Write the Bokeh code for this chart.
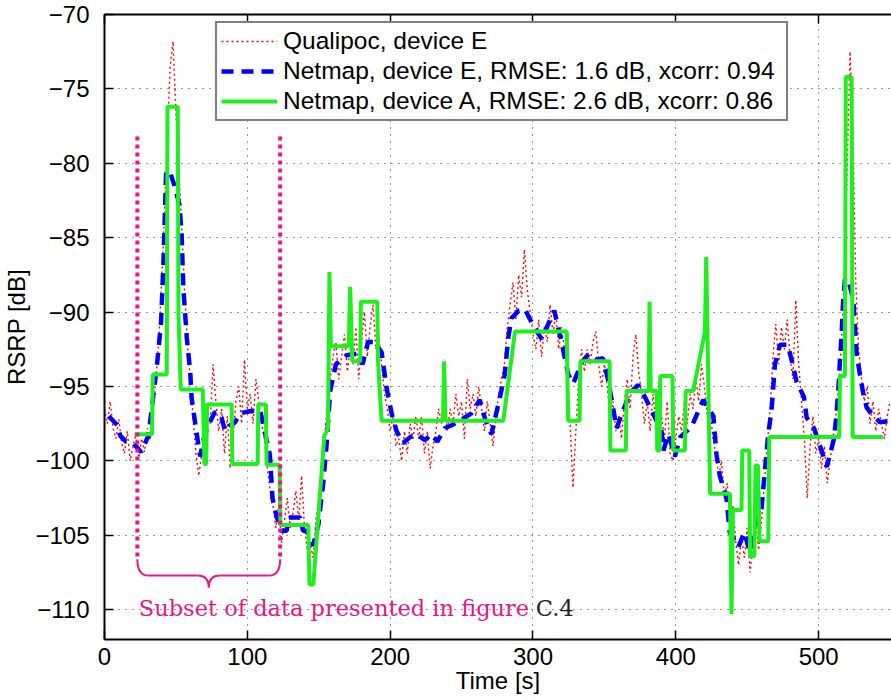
from bokeh.plotting import figure
from bokeh.models import Legend, LegendItem, LinearAxis, FixedTicker, Range1d
from bokeh.core.properties import value
from bokeh.embed import file_html
from bokeh.resources import INLINE

# ---------------- data ----------------
x_ticks = [0, 100, 200, 300, 400, 500]
y_ticks = [-110, -105, -100, -95, -90, -85, -80, -75, -70]

# Qualipoc, device E (sampled every 2 s from 0 to 550 s)
red_start, red_step = 0, 2
red_rsrp = [
    -96.5, -97.5, -96.0, -97.8, -98.5, -97.2, -98.8, -99.5, -98.0, -100.0,
    -99.0, -98.2, -99.8, -98.5, -99.4, -97.8, -98.6, -96.5, -94.5, -92.0,
    -88.0, -83.5, -78.0, -73.5, -71.8, -76.5, -80.5, -84.0, -88.5, -92.0,
    -94.5, -97.0, -99.5, -101.0, -99.5, -98.0, -96.5, -97.5, -93.5, -96.0,
    -98.0, -96.5, -99.5, -97.0, -100.5, -98.5, -96.0, -95.0, -97.5, -93.2,
    -96.5, -95.5, -97.5, -94.5, -96.0, -97.5, -98.5, -100.5, -102.0, -103.0,
    -104.5, -103.0, -105.5, -104.0, -102.5, -104.5, -103.5, -102.0, -104.0, -101.0,
    -104.5, -106.0, -105.5, -106.5, -104.0, -102.5, -100.5, -98.5, -96.5, -94.5,
    -93.0, -92.0, -94.5, -93.0, -91.5, -94.0, -92.5, -93.5, -91.0, -94.5,
    -92.0, -90.0, -93.0, -91.0, -89.5, -92.5, -91.5, -93.5, -95.5, -96.5,
    -98.0, -97.0, -99.0, -98.5, -100.0, -98.0, -99.5, -97.5, -98.5, -97.0,
    -98.5, -97.0, -99.5, -98.0, -100.5, -99.0, -98.0, -96.5, -97.5, -96.0,
    -98.0, -96.5, -97.5, -95.5, -97.0, -96.0, -98.5, -94.5, -96.5, -95.5,
    -97.0, -95.0, -96.5, -98.0, -96.0, -97.5, -99.0, -97.0, -95.5, -94.5,
    -93.5, -91.0, -89.5, -88.0, -90.5, -87.5, -89.0, -85.8, -88.5, -90.0,
    -91.5, -92.5, -90.5, -93.0, -91.0, -92.0, -89.5, -91.5, -90.0, -92.5,
    -91.0, -92.5, -94.0, -97.5, -101.8, -98.0, -94.5, -92.5, -94.0, -92.5,
    -93.5, -92.0, -91.3, -93.5, -95.0, -93.5, -95.0, -97.0, -96.0, -98.0,
    -97.0, -98.5, -96.0, -94.5, -96.5, -93.0, -91.5, -94.0, -95.5, -97.5,
    -96.0, -98.0, -95.5, -97.5, -99.0, -97.0, -98.5, -96.0, -99.5, -100.0,
    -98.5, -97.0, -98.0, -96.0, -97.5, -95.5, -96.5, -94.5, -96.0, -93.5,
    -95.0, -97.0, -96.5, -98.5, -99.5, -101.0, -100.0, -102.5, -101.5, -104.0,
    -103.0, -105.5, -107.0, -105.0, -106.5, -104.5, -107.5, -105.5, -104.0, -106.0,
    -104.0, -101.5, -99.0, -96.5, -93.0, -90.8, -93.5, -91.0, -92.5, -90.5,
    -93.0, -94.5, -89.2, -93.5, -96.0, -98.5, -102.5, -99.0, -97.0, -99.5,
    -98.5, -100.5, -99.0, -101.5, -100.0, -98.5, -97.0, -95.0, -92.0, -88.0,
    -80.0, -72.5, -78.0, -88.0, -92.5, -94.5, -96.0, -95.0, -97.5, -96.0,
    -98.0, -96.5, -97.5, -98.5, -97.0, -96.0,
]
red_t = [red_start + red_step * i for i in range(len(red_rsrp))]

# Netmap, device E
blue_t = [3, 9, 11, 15, 20, 25.6, 30.8, 36.6, 39.6, 41.3, 43.1, 45.5, 49, 52.5, 54,
          55.2, 57.6, 60, 61, 63.4, 65.7, 67, 69.5, 72.7, 77.4, 82, 84.4, 88, 91.4,
          95, 100, 105, 109, 111, 115.8, 117.6, 120.4, 124, 127.5, 129, 137, 139,
          141.5, 146, 149.7, 153, 155.5, 158, 162, 169.5, 176.5, 180.7, 184.5, 189,
          194, 197.5, 201, 204.5, 209, 214, 218.5, 224.3, 229, 233, 238.3, 243,
          248.8, 256.9, 262.7, 266.5, 270.9, 276.7, 280.2, 282.7, 285, 290, 294.3,
          300.2, 306, 310.7, 314.9, 320, 324.7, 328.2, 334, 339, 344.5, 349, 352.7,
          356.2, 358.5, 362, 368, 373.7, 379.4, 384, 390, 391.3, 394.8, 399.4, 403,
          411, 419.2, 426.3, 428.5, 430.8, 435.5, 437.7, 443.7, 448, 451.7, 455.2,
          460, 462.3, 464.7, 467, 469.4, 472.9, 478.4, 481.8, 484.6, 489.7, 491.6,
          496.8, 502, 505.6, 507.9, 510.7, 512.5, 513.7, 514.9, 516, 517.2, 518.4,
          520.7, 524.3, 525.4, 526.6, 528.9, 531.3, 533.6, 535.9, 539.5, 543, 551]
blue_rsrp = [-97.0, -97.6, -98.3, -98.7, -98.8, -99.4, -98.3, -93.7, -90.7, -86.6,
             -80.7, -80.5, -81.5, -82.8, -84.8, -88.4, -91.7, -94.0, -95.8, -97.4,
             -98.9, -99.7, -98.5, -97.6, -96.7, -97.1, -98.0, -97.6, -97.4, -96.8,
             -96.7, -96.6, -96.6, -97.5, -99.6, -102.5, -103.7, -104.7, -104.7,
             -103.8, -103.8, -104.7, -104.7, -105.7, -104.3, -101.6, -98.9, -95.3,
             -93.5, -92.9, -92.8, -93.5, -92.0, -92.0, -92.7, -95.1, -96.8, -98.0,
             -98.8, -98.4, -98.2, -98.6, -98.2, -98.7, -97.8, -97.6, -97.3, -96.8,
             -95.9, -97.2, -98.2, -95.8, -94.2, -91.7, -90.4, -89.9, -89.8, -90.9,
             -91.8, -90.8, -89.9, -92.0, -94.2, -94.8, -93.4, -92.8, -93.2, -93.1,
             -94.6, -96.5, -97.8, -96.9, -95.4, -94.9, -95.9, -96.8, -98.0, -99.3,
             -98.2, -99.7, -98.4, -97.7, -95.9, -97.0, -99.6, -101.0, -102.5, -104.8,
             -105.8, -104.8, -106.1, -104.5, -103.2, -100.7, -98.2, -96.6, -93.5,
             -92.2, -92.2, -93.5, -94.7, -95.7, -97.1, -97.8, -99.3, -100.4, -99.6,
             -98.5, -96.9, -95.3, -93.3, -91.6, -89.2, -87.8, -87.8, -89.2, -91.0,
             -92.8, -94.2, -95.5, -96.4, -96.7, -97.1, -97.4, -97.3]

# Netmap, device A
green_t = [21, 33.3, 33.8, 43.6, 44.1, 51.3, 51.8, 53.4, 68.8, 70, 71.2, 71.8, 89,
           89.5, 107.2, 107.7, 113, 113.5, 122.6, 123.1, 142.7, 143.5, 146.2, 153.9,
           156.5, 157.5, 158.5, 171, 172, 173.5, 179, 179.5, 191, 191.5, 194, 237,
           237.8, 238.8, 279.2, 287.4, 323.6, 324.6, 332.6, 333.2, 353.6, 354.2, 365,
           365.5, 381, 381.6, 382.4, 386.5, 387, 388.6, 389.1, 397.7, 398.2, 406.4,
           406.9, 412.2, 420.4, 421.3, 424, 437.9, 439, 440, 446, 446.5, 451.4, 452,
           455, 455.8, 457.5, 458.6, 464.7, 465.4, 514.4, 514.9, 518.4, 519, 523.1,
           523.8, 545]
green_rsrp = [-98.2, -98.2, -94.2, -94.2, -76.2, -76.2, -90.2, -95.2, -95.2, -100.2,
              -100.2, -96.2, -96.2, -100.2, -100.2, -96.2, -96.2, -100.25, -100.25,
              -104.3, -104.3, -108.3, -108.3, -98.3, -97.8, -87.3, -92.3, -92.3,
              -88.3, -93.3, -93.3, -89.3, -89.3, -93.3, -97.3, -97.3, -93.3, -97.3,
              -97.3, -91.3, -91.3, -97.3, -97.3, -93.3, -93.3, -99.3, -99.3, -95.3,
              -95.3, -89.3, -95.3, -95.3, -99.3, -99.3, -94.3, -94.3, -99.3, -99.3,
              -95.3, -95.3, -91.3, -86.3, -102.2, -102.2, -110.3, -103.3, -103.3,
              -99.3, -99.3, -106.4, -106.4, -100.3, -100.3, -105.4, -105.4, -98.4,
              -98.4, -94.3, -94.3, -74.2, -74.2, -98.4, -98.4]

legend_labels = ["Qualipoc, device E",
                 "Netmap, device E, RMSE: 1.6 dB, xcorr: 0.94",
                 "Netmap, device A, RMSE: 2.6 dB, xcorr: 0.86"]

# subset annotation (data coordinates)
subset_x = [23, 123]
subset_top, subset_bottom = -78.2, -106.6
annot_text = "Subset of data presented in figure"
annot_ref = "C.4"
annot_y = -109.9
annot_ref_x = 302

# ---------------- styles ----------------
PINK = "#e8168a"
RED = "#ff0000"
BLUE = "#0000ff"
GREEN = "#1fee1f"
SANS = "Liberation Sans"
SERIF = "DejaVu Serif"
FS = "24px"

p = figure(width=891, height=700, x_range=Range1d(0, 551), y_range=Range1d(-112, -70),
           output_backend="svg", toolbar_location=None,
           min_border_left=103, min_border_right=0, min_border_top=14,
           min_border_bottom=61)
p.outline_line_color = None
p.background_fill_color = "white"
p.border_fill_color = "white"

xb = p.below[0]
yl = p.left[0]
xb.ticker = FixedTicker(ticks=x_ticks)
yl.ticker = FixedTicker(ticks=y_ticks)
yl.major_label_overrides = {v: "\u2212" + str(abs(v)) for v in y_ticks}
for ax in (xb, yl):
    ax.major_tick_in = 9
    ax.major_tick_out = 0
    ax.minor_tick_line_color = None
    ax.axis_line_width = 2
    ax.axis_line_color = "black"
    ax.major_tick_line_width = 1.5
    ax.major_label_text_font = SANS
    ax.major_label_text_font_size = FS
    ax.major_label_text_color = "black"
    ax.axis_label_text_font = SANS
    ax.axis_label_text_font_size = FS
    ax.axis_label_text_font_style = "normal"
    ax.axis_label_text_color = "black"
xb.axis_label = "Time [s]"
yl.axis_label = "RSRP [dB]"
xb.major_label_standoff = 8
xb.axis_label_standoff = -1
yl.major_label_standoff = 15
yl.axis_label_standoff = 2

top = LinearAxis(ticker=FixedTicker(ticks=x_ticks),
                 major_label_overrides={t: "" for t in x_ticks},
                 major_label_text_font_size="1px",
                 major_tick_in=9, major_tick_out=0, minor_tick_line_color=None,
                 axis_line_width=2, major_tick_line_width=1.5, major_label_standoff=0)
p.add_layout(top, "above")

p.xgrid.ticker = FixedTicker(ticks=x_ticks)
p.ygrid.ticker = FixedTicker(ticks=y_ticks)
p.grid.grid_line_color = "#333333"
p.grid.grid_line_dash = "1 6"
p.grid.grid_line_width = 1

r_red = p.line(red_t, red_rsrp, line_color=RED, line_width=1.4, line_dash="2 3")
r_blue = p.line(blue_t, blue_rsrp, line_color=BLUE, line_width=4.5, line_dash="12 8")
r_green = p.line(green_t, green_rsrp, line_color=GREEN, line_width=4)

# subset markers
p.segment(x0=subset_x, y0=[subset_top] * 2, x1=subset_x, y1=[subset_bottom] * 2,
          line_color=PINK, line_width=4, line_dash="4 4")
# brace
x0, x1 = subset_x
xm = (x0 + x1) / 2
yb, ytip = subset_bottom - 1.1, subset_bottom - 1.9
p.quadratic(x0=[x0, xm - 8, xm, x1 - 8], y0=[subset_bottom, yb, ytip, yb],
            x1=[x0 + 8, xm, xm + 8, x1], y1=[yb, ytip, yb, subset_bottom],
            cx=[x0, xm, xm, x1], cy=[yb, yb, yb, yb],
            line_color=PINK, line_width=2)
p.segment(x0=[x0 + 8, xm + 8], y0=[yb, yb], x1=[xm - 8, x1 - 8], y1=[yb, yb],
          line_color=PINK, line_width=2)
p.text(x=[x0 + 1], y=[annot_y], text=[annot_text], text_font=value(SERIF),
       text_font_size="22.5px", text_color=PINK, text_baseline="alphabetic")
p.text(x=[annot_ref_x], y=[annot_y], text=[annot_ref], text_font=value(SERIF),
       text_font_size="22.5px", text_color="#222222", text_baseline="alphabetic")

legend = Legend(items=[LegendItem(label=legend_labels[0], renderers=[r_red]),
                       LegendItem(label=legend_labels[1], renderers=[r_blue]),
                       LegendItem(label=legend_labels[2], renderers=[r_green])],
                location=(111, 518))
legend.border_line_color = "black"
legend.border_line_width = 2
legend.background_fill_alpha = 1
legend.label_text_font = SANS
legend.label_text_font_size = "24.5px"
legend.label_text_color = "black"
legend.glyph_width = 56
legend.glyph_height = 24
legend.label_height = 24
legend.label_width = 499
legend.spacing = 2
legend.padding = 4
legend.label_standoff = 6
legend.margin = 0
p.add_layout(legend)

open("out.html", "w").write(file_html(p, INLINE))
